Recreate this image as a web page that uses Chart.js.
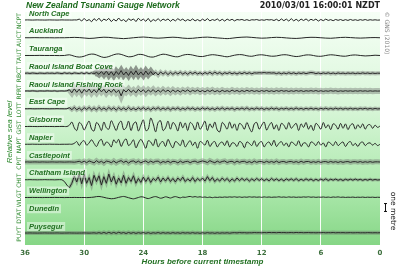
<!DOCTYPE html>
<html>
<head>
<meta charset="utf-8">
<title>New Zealand Tsunami Gauge Network</title>
<script src="https://cdn.jsdelivr.net/npm/chart.js@4/dist/chart.umd.min.js"></script>
<style>
  html, body { margin: 0; padding: 0; background: #fff; }
  canvas { display: block; }
</style>
</head>
<body>
<canvas id="gauge-chart" width="400" height="267"></canvas>
<script>
// Stations from top to bottom, with gauge codes
const stationNames = ["North Cape", "Auckland", "Tauranga", "Raoul Island Boat Cove", "Raoul Island Fishing Rock",
  "East Cape", "Gisborne", "Napier", "Castlepoint", "Chatham Island", "Wellington", "Dunedin", "Puysegur"];
const stationCodes = ["NCPT", "AUCT", "TAUT", "RBCT", "RFRT", "LOTT", "GIST", "NAPT", "CPIT", "CHIT", "WLGT", "DTAT", "PUYT"];
const hourTicks = [36, 30, 24, 18, 12, 6, 0];

// Sea level in metres, sampled evenly from 36 hours ago (first) to now (last)
const northCape = [0,0.01,0,-0.01,0,0.01,0,0,-0.01,0,0.01,0,0,-0.01,0,0.01,0,0,0,-0.01,0.01,0,
  0.1,-0.12,0.18,-0.1,0.05,-0.2,0.15,-0.08,0.2,-0.15,0.1,-0.05,
  0.18,-0.18,0.08,-0.12,0.22,-0.1,0.05,-0.2,0.15,-0.05,0.12,-0.18,
  0.2,-0.08,0.1,-0.15,0.18,-0.2,0.05,-0.1,0.15,-0.12,0.1,-0.05,
  0.12,-0.15,0.08,-0.1,0.15,-0.05,0.1,-0.12,0.05,-0.08,0.12,-0.1,
  0.05,-0.12,0.1,-0.08,0.15,-0.1,0.05,-0.05,0.12,-0.1,0.08,-0.12,
  0.1,-0.05,0.08,-0.1,0.05,0,0.06,-0.05,0.04,-0.06,0.03,0,
  0.05,-0.04,0.02,-0.03,0.05,0,0.04,-0.06,0.08,-0.1,0.12,-0.08,
  0.1,-0.12,0.15,-0.1,0.08,-0.12,0.1,-0.06,0.12,-0.1,0.08,-0.05,
  0.1,-0.12,0.06,-0.08,0.1,-0.05,0.04,-0.08,0.06,-0.04,0.05,-0.06,
  0.04,-0.05,0.06,-0.04,0.03,-0.05,0.04,-0.03,0.05,-0.04,0.03,-0.02,
  0.02,-0.02,0];
const auckland = [0,0,0.01,0,0,0,-0.01,0,0,0.02,
  0.04,0.02,-0.03,-0.08,-0.05,0.02,0.06,0.04,-0.02,-0.06,
  -0.1,-0.06,0,0.05,0.08,0.04,-0.02,-0.05,-0.02,0.03,
  0.06,0.03,-0.04,-0.08,-0.06,0,0.05,0.07,0.03,-0.02,
  -0.06,-0.1,-0.05,0.02,0.06,0.08,0.04,-0.01,-0.05,-0.03,
  0.02,0.05,0.03,-0.02,-0.06,-0.08,-0.04,0.02,0.05,0.04,
  0,-0.04,-0.06,-0.02,0.03,0.05,0.02,-0.02,-0.04,-0.02,
  0.01,0.02,0];
const tauranga = [0,0,0,0.01,0,0,0,-0.01,0,0.08,
  -0.08,-0.18,-0.08,0.12,0.15,-0.05,-0.22,-0.12,0.09,0.18,
  0.03,-0.15,-0.08,0.12,0.08,-0.12,-0.18,0,0.15,0.06,
  -0.09,-0.15,0.03,0.12,0.05,-0.08,-0.12,0,0.09,0.03,
  -0.06,-0.15,-0.03,0.08,0.09,-0.03,-0.09,0.03,0.08,0,
  -0.08,-0.05,0.06,0.08,-0.03,-0.12,-0.05,0.06,0.05,-0.06,
  -0.09,0,0.08,0.03,-0.05,-0.08,0.02,0.06,0,-0.05,
  -0.02,0.03,0];
const raoulBoatCove = [0,0.02,-0.02,0.03,0,-0.03,0.02,0,-0.02,0.03,-0.01,0.02,
  -0.03,0.04,0,-0.04,0.05,-0.02,0.03,-0.05,0.04,0,-0.03,0.05,
  -0.05,0.06,-0.04,0.05,-0.08,0.1,-0.12,0.2,-0.15,0.25,-0.2,0.18,
  -0.25,0.2,-0.15,0.3,-0.2,0.15,-0.25,0.22,-0.18,0.28,-0.2,0.15,
  -0.22,0.25,-0.15,0.2,-0.18,0.12,-0.2,0.15,-0.1,0.12,-0.15,0.1,
  -0.12,0.1,-0.08,0.12,-0.1,0.08,-0.12,0.1,-0.06,0.1,-0.08,0.06,
  -0.1,0.08,-0.06,0.1,-0.08,0.12,-0.05,0.08,-0.1,0.06,-0.04,0.08,
  -0.06,0.05,-0.08,0.06,-0.05,0.08,-0.04,0.06,-0.06,0.05,0.02,0.06,
  0.04,0.08,0.03,0.06,0.02,0.05,-0.04,0.05,-0.06,0.04,-0.05,0.06,
  -0.04,0.05,-0.06,0.04,-0.03,0.05,-0.04,0.03,0.08,0.05,-0.04,0.03,
  -0.05,0.04,-0.03,0.05,-0.04,0.03,-0.05,0.04,-0.03,0.02,-0.04,0.03,
  -0.02,0.03,-0.04,0.02,-0.03,0.04,-0.02,0.03,-0.03,0.02,-0.02,0.01,0];
const raoulFishingRock = [0,0.01,-0.01,0.02,0,-0.02,0.01,0,-0.01,0.02,0,-0.01,
  0.02,-0.02,0,0.01,-0.01,0.02,0.15,-0.2,0.25,-0.15,0.2,-0.25,
  0.18,-0.12,0.22,-0.2,0.15,-0.18,0.25,-0.1,0.2,-0.22,0.12,-0.15,
  0.2,-0.18,0.1,-0.55,0.15,-0.12,0.2,-0.15,0.1,-0.2,0.18,-0.1,
  0.15,-0.18,0.12,-0.1,0.16,-0.14,0.1,-0.12,0.15,-0.08,0.1,-0.14,
  0.12,-0.1,0.08,-0.12,0.1,-0.06,0.12,-0.1,0.08,-0.05,0.1,-0.08,
  0.06,-0.1,0.08,-0.06,0.1,-0.08,0.05,-0.1,0.08,-0.06,0.04,-0.08,
  0.1,-0.05,0.06,-0.08,0.05,-0.06,0.08,-0.04,0.06,-0.05,0.04,-0.06,
  0.05,-0.04,0.06,-0.05,0.03,-0.06,0.05,-0.04,0.06,-0.03,0.04,-0.05,
  0.03,-0.04,0.05,-0.03,0.04,-0.05,0.03,-0.02,0.04,-0.03,0.05,-0.04,
  0.03,-0.04,0.02,-0.03,0.04,-0.02,0.03,-0.04,0.02,-0.03,0.03,-0.02,
  0.02,-0.03,0.02,-0.02,0.03,-0.02,0.02,-0.03,0.02,-0.02,0.01,-0.01,0];
const eastCape = [0,0,0.01,0,-0.01,0,0,0.01,0,0,-0.01,0,
  0,0.01,0,0,-0.01,0,0.12,-0.1,0.15,-0.12,0.08,-0.15,
  0.12,-0.08,0.15,-0.12,0.1,-0.14,0.16,-0.1,0.08,-0.12,0.14,-0.08,
  0.1,-0.15,0.12,-0.1,0.08,-0.12,0.15,-0.1,0.06,-0.12,0.1,-0.08,
  0.12,-0.1,0.08,-0.14,0.1,-0.06,0.12,-0.1,0.08,-0.08,0.1,-0.12,
  0.08,-0.06,0.1,-0.1,0.06,-0.08,0.1,-0.05,0.08,-0.1,0.06,-0.08,
  0.1,-0.06,0.08,-0.08,0.05,-0.1,0.08,-0.06,0.1,-0.08,0.06,-0.05,
  0.08,-0.1,0.06,-0.05,0.08,-0.06,0.1,-0.08,0.05,-0.06,0.08,-0.05,
  0.06,-0.08,0.05,-0.06,0.08,-0.05,0.06,-0.08,0.05,-0.04,0.06,-0.06,
  0.05,-0.06,0.08,-0.05,0.04,-0.06,0.05,-0.04,0.06,-0.05,0.04,-0.06,
  0.05,-0.04,0.06,-0.05,0.04,-0.05,0.06,-0.04,0.05,-0.05,0.04,-0.04,
  0.05,-0.04,0.03,-0.05,0.04,-0.03,0.05,-0.04,0.03,-0.04,0.03,-0.02,0];
const gisborne = [0,0,0.01,0,0,-0.01,0,0,0.01,0,0,0,-0.01,0,0,0.01,0,0,
  0.15,0.5,-0.15,-0.45,0.45,0.2,-0.4,0.15,0.6,-0.3,-0.5,0.45,
  0.15,-0.45,0.5,-0.15,-0.3,0.65,0.1,-0.45,0.3,0.6,-0.35,-0.15,
  0.6,-0.45,0.3,0.5,-0.5,0.15,0.75,-0.45,-0.3,0.95,0.3,-0.6,
  0.45,0.65,-0.45,-0.15,0.6,-0.3,0.45,0.15,-0.5,0.5,-0.15,0.4,
  -0.45,0.45,0.2,-0.4,0.5,-0.3,0.1,0.6,-0.45,0.3,-0.15,0.5,
  -0.4,-0.6,0.45,0.15,-0.3,0.5,-0.2,0.3,-0.45,0.35,0.15,-0.3,
  0.45,-0.15,-0.6,0.3,0.45,-0.3,0.15,0.5,-0.4,0.1,0.45,-0.3,
  0.2,-0.45,0.35,0.15,-0.3,0.45,-0.2,0.1,0.35,-0.45,0.3,-0.1,
  0.45,-0.3,0.15,-0.45,0.35,0.1,-0.3,0.45,-0.15,0.2,-0.35,0.3,
  0.15,-0.3,0.35,-0.2,0.3,-0.35,0.15,0.3,-0.3,0.2,-0.15,0.3,
  -0.3,0.15,0.2,-0.2,0.15,-0.1,0.05];
const napier = [0,0,0,0.01,0,0,-0.01,0,0,0,0.01,0,0,0,-0.01,0,0,0,0.01,0,
  0.1,0.3,-0.15,0.25,0.4,-0.1,0.15,0.5,0.1,-0.25,0.3,0.55,
  -0.15,0.25,0.1,-0.3,0.5,0.15,0.55,-0.25,0.3,0.6,-0.15,0.1,
  0.5,-0.4,0.15,0.55,0.1,-0.45,0.4,0.25,-0.15,0.6,-0.3,0.15,
  0.3,-0.25,0.55,0,-0.4,0.3,0.15,-0.15,0.5,-0.3,0.1,0.4,
  -0.15,0.25,-0.45,0.3,0.15,-0.1,0.45,-0.25,0.15,0.3,-0.3,0.1,
  0.25,-0.15,0.4,-0.3,0.15,0.1,-0.25,0.3,0.15,-0.4,0.25,0.1,
  -0.15,0.4,-0.25,0.15,0.3,-0.3,0.1,0.25,-0.15,0.45,-0.25,0.1,
  0.3,-0.15,0.15,-0.3,0.25,0.1,-0.15,0.4,-0.25,0.15,0.1,-0.3,
  0.25,0.15,-0.15,0.3,-0.1,0.15,-0.3,0.25,0.1,-0.15,0.3,-0.15,
  0.1,0.25,-0.25,0.15,0.3,-0.15,0.1,-0.25,0.15,0.25,-0.15,0.1,
  0.15,-0.1,0.1,-0.15,0];
const castlepoint = [0,0.01,-0.01,0,0.01,0,-0.01,0.01,0,-0.01,0,0.01,
  0,-0.01,0.01,0,-0.01,0,0.01,0,-0.02,0.02,0.08,-0.05,
  0.1,-0.08,0.12,0.02,-0.1,0.15,-0.05,0.08,-0.12,0.1,0.05,-0.08,
  0.12,-0.1,0.06,0.15,-0.05,0.1,-0.12,0.08,0.12,-0.06,0.1,-0.1,
  0.05,0.12,-0.08,0.1,-0.05,0.08,0.1,-0.1,0.06,-0.04,0.1,-0.08,
  0.08,0.05,-0.1,0.1,-0.06,0.04,0.08,-0.08,0.06,0.1,-0.05,0.04,
  0.12,0.05,-0.06,0.15,0.02,-0.08,0.1,-0.05,0.06,0.12,-0.06,0.05,
  0.08,-0.08,0.1,-0.04,0.06,0.08,-0.06,0.05,-0.08,0.1,-0.04,0.06,
  0.05,-0.06,0.08,-0.04,0.06,-0.05,0.1,-0.06,0.04,0.06,-0.05,0.04,
  0.06,-0.04,0.05,-0.06,0.08,-0.04,0.05,0.06,-0.05,0.04,-0.04,0.06,
  -0.05,0.04,0.05,-0.04,0.06,-0.03,0.04,-0.05,0.05,-0.04,0.03,0.05,
  -0.04,0.03,0.04,-0.03,0.05,-0.04,0.03,-0.03,0.04,-0.03,0.02,0.02,0];
const chathamIsland = [0,0,0.01,0,0,-0.01,0,0,0.01,0,0,0,
  -0.01,0,0.01,0,-0.2,-0.6,-0.9,-0.4,0.4,-0.25,0.6,-0.45,
  0.65,-0.4,0.25,-0.65,0.5,-0.2,0.45,-0.6,0.35,-0.4,0.65,-0.25,
  0.4,-0.5,0.2,-0.35,0.5,-0.4,0.25,-0.2,0.45,-0.4,0.15,-0.3,
  0.3,-0.2,0.25,-0.3,0.15,-0.1,0.3,-0.25,0.2,-0.15,0.25,-0.2,
  0.15,-0.25,0.2,-0.1,0.3,-0.2,0.1,-0.15,0.25,-0.2,0.15,-0.1,
  0.2,-0.15,0.35,-0.1,0.25,-0.2,0.1,-0.15,0.2,-0.1,0.15,-0.2,
  0.1,-0.15,0.2,-0.1,0.15,-0.08,0.12,-0.15,0.1,-0.1,0.15,-0.08,
  0.12,-0.1,0.08,-0.12,0.15,-0.08,0.1,-0.1,0.08,-0.12,0.1,-0.06,
  0.1,-0.08,0.12,-0.1,0.06,-0.08,0.1,-0.06,0.08,-0.1,0.06,-0.08,
  0.08,-0.06,0.1,-0.08,0.06,-0.05,0.08,-0.06,0.05,-0.08,0.06,-0.05,
  0.06,-0.05,0.08,-0.04,0.05,-0.06,0.04,-0.05,0.06,-0.04,0.03,-0.03,0];
const wellington = [0,0,0,0.01,0,0,0,-0.01,0,0,0,0,
  0.01,0,0,0,-0.01,0,0,0,0.01,0,0,0,
  0,-0.01,0,0.02,0.05,0.1,0.12,0.08,0.02,-0.05,-0.1,-0.14,
  -0.12,-0.06,0.02,0.08,0.12,0.06,-0.02,-0.1,-0.15,-0.08,0,0.08,
  0.05,-0.05,-0.12,-0.04,0.06,0.1,0.02,-0.08,-0.02,0.08,0.02,-0.06,
  0.04,0.1,0.03,-0.04,0.05,0.02,0.08,0.12,0.05,0.1,0.04,0.08,
  0.02,0.06,0,0.05,-0.02,0.04,0.01,0.05,0.02,0.06,0.03,0.07,
  0.04,0.08,0.03,0.07,0.02,0.06,0.03,0.08,0.04,0.07,0.03,0.06,
  0.02,0.07,0.03,0.06,0.02,0.05,0.04,0.08,0.03,0.06,0.02,0.07,
  0.03,0.06,0.02,0.05,0.03,0.07,0.04,0.08,0.03,0.06,0.02,0.05,
  0.03,0.06,0.02,0.05,0.01,0.06,0.03,0.07,0.02,0.05,0.01,0.04,
  0.02,0.05,0.01,0.04,0.02,0.05,0.01,0.04,0.02,0.04,0.01,0.03,0.02];
const dunedin = [];
const puysegur = [0,0,0.01,0,0,-0.01,0,0,0.01,0,0,0,
  0,0.01,0,-0.01,0,0,0.01,0,0,-0.01,0,0,
  0.01,0,-0.01,0,0.02,-0.02,0.04,-0.03,0.06,-0.04,0.07,-0.03,
  0.06,-0.04,0.08,-0.02,0.05,-0.05,0.06,-0.03,0.05,-0.04,0.04,-0.02,
  0.05,-0.03,0.04,-0.04,0.03,-0.02,0.05,-0.03,0.04,-0.02,0.03,-0.03,
  0.04,-0.02,0.03,-0.03,0.04,-0.01,0.03,-0.02,0.04,-0.02,0.02,-0.03,
  0.03,-0.02,0.04,-0.01,0.02,-0.03,0.03,-0.02,0.02,-0.01,0.03,-0.02,
  0.02,0.04,0.01,0.05,0.02,0.04,0.01,0.03,0.02,0.05,0.03,0.04,
  0.02,0.05,0.03,0.06,0.04,0.05,0.03,0.06,0.04,0.05,0.03,0.04,
  0.05,0.03,0.06,0.04,0.05,0.03,0.04,0.05,0.03,0.04,0.02,0.04,
  0.03,0.05,0.02,0.04,0.03,0.05,0.02,0.04,0.03,0.04,0.02,0.03,
  0.04,0.02,0.03,0.04,0.02,0.03,0.02,0.04,0.03,0.02,0.03,0.02,0.03];

const seaLevels = [northCape, auckland, tauranga, raoulBoatCove, raoulFishingRock, eastCape,
  gisborne, napier, castlepoint, chathamIsland, wellington, dunedin, puysegur];

// Each trace sits 2 m above the next one down
const STATION_GAP = 2;
const baseline = i => (stationNames.length - 1 - i) * STATION_GAP;

function toPoints(levels, i) {
  const n = levels.length;
  return levels.map((v, k) => ({ x: 36 - k * 36 / (n - 1), y: baseline(i) + v }));
}

// Grey raw-signal band behind some traces: [width before arrival, width after, arrival hour]
const BAND = "rgba(105,105,105,0.4)";
const bandStyles = {
  RBCT: [3, 4, 29],
  RFRT: [2, 6, 31.5],
  LOTT: [1.5, 4, 31.5],
  CPIT: [5, 5, 36],
  CHIT: [0, 3, 31.5],
  PUYT: [4, 4, 36]
};

const datasets = [];
seaLevels.forEach((levels, i) => {
  if (!levels.length) return;
  const code = stationCodes[i];
  const smooth = ["GIST", "NAPT", "AUCT", "TAUT", "WLGT"].includes(code);
  datasets.push({
    label: stationNames[i],
    data: toPoints(levels, i),
    borderColor: "#262626",
    borderWidth: 1,
    pointRadius: 0,
    tension: smooth ? 0.35 : 0,
    order: 1
  });
  const band = bandStyles[code];
  if (band) {
    const [before, after, arrival] = band;
    datasets.push({
      label: stationNames[i] + " raw",
      data: toPoints(levels, i),
      borderColor: BAND,
      borderWidth: after,
      pointRadius: 0,
      order: 2,
      segment: {
        borderWidth: ctx => {
          const h = ctx.p0.parsed.x;
          if (h > arrival) return before;
          if (code === "RBCT" && h > 23) return 6;
          return after;
        },
        borderColor: ctx => {
          const h = ctx.p0.parsed.x;
          if (h > arrival && before === 0) return "rgba(0,0,0,0)";
          if (code === "RBCT" && h <= arrival && h > 23) return "rgba(70,70,70,0.55)";
          return BAND;
        }
      }
    });
  }
});

const GREEN = "#227022";
const LABEL_FONT = "bold italic 7.5px 'Liberation Sans', Arial, sans-serif";

const backdrop = {
  id: "backdrop",
  beforeDraw(chart) {
    const { ctx, chartArea: a } = chart;
    const g = ctx.createLinearGradient(0, a.top, 0, a.bottom);
    g.addColorStop(0, "#f6fff6");
    g.addColorStop(0.4, "#d9f6d9");
    g.addColorStop(0.75, "#ade9ad");
    g.addColorStop(1, "#86d686");
    ctx.save();
    ctx.fillStyle = g;
    ctx.fillRect(a.left, a.top, a.right - a.left, a.bottom - a.top);
    ctx.restore();
  }
};

const annotations = {
  id: "annotations",
  afterDatasetsDraw(chart) {
    const { ctx, chartArea: a } = chart;
    const yScale = chart.scales.y;
    ctx.save();

    // station names with a pale box behind them
    ctx.font = LABEL_FONT;
    ctx.textBaseline = "middle";
    ctx.textAlign = "left";
    stationNames.forEach((name, i) => {
      const y = yScale.getPixelForValue(baseline(i)) - 6.5;
      const w = ctx.measureText(name).width;
      ctx.fillStyle = "rgba(255,255,255,0.45)";
      ctx.fillRect(a.left + 2, y - 4.5, w + 4, 9);
      ctx.fillStyle = GREEN;
      ctx.fillText(name, a.left + 4, y);
    });

    // gauge codes down the left side
    ctx.font = "6px 'DejaVu Sans', sans-serif";
    ctx.fillStyle = "#2f8a2f";
    ctx.textAlign = "center";
    stationCodes.forEach((code, i) => {
      const y = yScale.getPixelForValue(baseline(i)) + 1;
      ctx.save();
      ctx.translate(19, y);
      ctx.rotate(-Math.PI / 2);
      ctx.fillText(code, 0, 0);
      ctx.restore();
    });

    ctx.font = "italic 8px 'Liberation Sans', Arial, sans-serif";
    ctx.fillStyle = "#2f8a2f";
    ctx.save();
    ctx.translate(10, 132);
    ctx.rotate(-Math.PI / 2);
    ctx.fillText("Relative sea level", 0, 0);
    ctx.restore();

    // headings
    ctx.textAlign = "left";
    ctx.font = "bold italic 8.5px 'Liberation Sans', Arial, sans-serif";
    ctx.fillStyle = "#1c6a1c";
    ctx.fillText("New Zealand Tsunami Gauge Network", a.left + 1, 6);
    ctx.textAlign = "right";
    ctx.font = "bold 8px 'DejaVu Sans', sans-serif";
    ctx.fillStyle = "#222";
    ctx.fillText("2010/03/01 16:00:01 NZDT", a.right, 6);

    // right margin notes
    ctx.textAlign = "center";
    ctx.font = "6px 'DejaVu Sans', sans-serif";
    ctx.fillStyle = "#888";
    ctx.save();
    ctx.translate(387, 33);
    ctx.rotate(Math.PI / 2);
    ctx.fillText("\u00A9 GNS (2010)", 0, 0);
    ctx.restore();

    ctx.font = "7.5px 'DejaVu Sans', sans-serif";
    ctx.fillStyle = "#111";
    ctx.save();
    ctx.translate(393, 211);
    ctx.rotate(Math.PI / 2);
    ctx.fillText("one metre", 0, 0);
    ctx.restore();

    // one metre scale bar
    const metre = Math.abs(yScale.getPixelForValue(1) - yScale.getPixelForValue(0));
    const mid = 207.5;
    ctx.strokeStyle = "#111";
    ctx.lineWidth = 1;
    ctx.beginPath();
    ctx.moveTo(385.5, mid - metre / 2);
    ctx.lineTo(385.5, mid + metre / 2);
    ctx.moveTo(384, mid - metre / 2 + 0.5);
    ctx.lineTo(387, mid - metre / 2 + 0.5);
    ctx.moveTo(384, mid + metre / 2 - 0.5);
    ctx.lineTo(387, mid + metre / 2 - 0.5);
    ctx.stroke();

    ctx.restore();
  }
};

const canvas = document.getElementById("gauge-chart");
new Chart(canvas.getContext("2d"), {
  type: "line",
  data: { datasets },
  options: {
    responsive: false,
    animation: false,
    devicePixelRatio: 1,
    layout: { padding: { left: 25, right: 20, top: 12, bottom: 0 } },
    plugins: {
      legend: { display: false },
      tooltip: { enabled: false }
    },
    scales: {
      x: {
        type: "linear",
        reverse: true,
        min: 0,
        max: 36,
        afterBuildTicks: scale => { scale.ticks = hourTicks.map(v => ({ value: v })); },
        afterFit: scale => { scale.height = 22; },
        border: { display: false },
        grid: {
          drawTicks: false,
          lineWidth: 1,
          color: ctx => (ctx.tick && (ctx.tick.value === 0 || ctx.tick.value === 36)) ? "rgba(0,0,0,0)" : "rgba(255,255,255,0.95)"
        },
        ticks: {
          padding: 4,
          maxRotation: 0,
          color: "#3c6e3c",
          font: { family: "'DejaVu Sans', sans-serif", size: 7, weight: "bold" }
        },
        title: {
          display: true,
          text: "Hours before current timestamp",
          color: "#227022",
          padding: { top: 0, bottom: 0 },
          font: { family: "'Liberation Sans', Arial, sans-serif", size: 8, style: "italic", weight: "bold" }
        }
      },
      y: {
        type: "linear",
        display: false,
        min: -1.35,
        max: 24.9
      }
    }
  },
  plugins: [backdrop, annotations]
});
</script>
</body>
</html>
